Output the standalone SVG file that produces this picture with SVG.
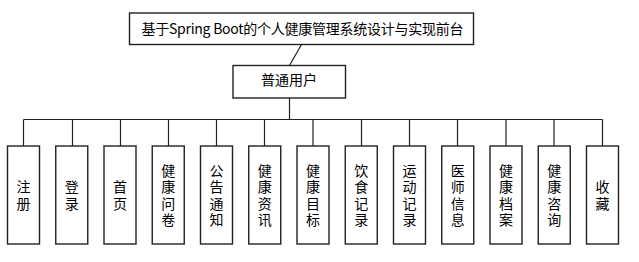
<svg xmlns="http://www.w3.org/2000/svg" width="639" height="262" viewBox="0 0 639 262">
<style>
.box{fill:#fff;stroke:#222;stroke-width:1.4}
.ln{fill:none;stroke:#222;stroke-width:1.2}
text{font-family:"Noto Sans CJK SC","Liberation Sans",sans-serif;font-size:14px;fill:#000;text-anchor:middle}
</style>
<rect width="639" height="262" fill="#fff"/>
<g id="connectors">
<path class="ln" d="M301.5 44.5 L289.5 65.5"/>
<path class="ln" d="M289.5 98 V119.5"/>
<path class="ln" d="M23.5 119.5 H602.5"/>
<path class="ln" d="M23.5 119.5 V146 M72.5 119.5 V146 M120.5 119.5 V146 M168.5 119.5 V146 M216.5 119.5 V146 M264.5 119.5 V146 M313 119.5 V146 M361.5 119.5 V146 M409.5 119.5 V146 M457.5 119.5 V146 M506 119.5 V146 M554 119.5 V146 M602.5 119.5 V146"/>
</g>
<g id="title">
<rect class="box" x="129.5" y="13" width="344" height="31.5"/>
<text x="302.5" y="34" textLength="322" lengthAdjust="spacing">基于Spring Boot的个人健康管理系统设计与实现前台</text>
</g>
<g id="user">
<rect class="box" x="233" y="65.5" width="112.5" height="32.5"/>
<text x="289" y="85">普通用户</text>
</g>
<g id="n1"><rect class="box" x="7.5" y="146" width="32" height="98"/><text x="23.5" y="192">注</text><text x="23.5" y="208.5">册</text></g>
<g id="n2"><rect class="box" x="55.75" y="146" width="32" height="98"/><text x="71.75" y="192">登</text><text x="71.75" y="208.5">录</text></g>
<g id="n3"><rect class="box" x="104" y="146" width="32" height="98"/><text x="120" y="192">首</text><text x="120" y="208.5">页</text></g>
<g id="n4"><rect class="box" x="152.25" y="146" width="32" height="98"/><text x="168.25" y="175.5">健</text><text x="168.25" y="192">康</text><text x="168.25" y="208.5">问</text><text x="168.25" y="225">卷</text></g>
<g id="n5"><rect class="box" x="200.5" y="146" width="32" height="98"/><text x="216.5" y="175.5">公</text><text x="216.5" y="192">告</text><text x="216.5" y="208.5">通</text><text x="216.5" y="225">知</text></g>
<g id="n6"><rect class="box" x="248.75" y="146" width="32" height="98"/><text x="264.75" y="175.5">健</text><text x="264.75" y="192">康</text><text x="264.75" y="208.5">资</text><text x="264.75" y="225">讯</text></g>
<g id="n7"><rect class="box" x="297" y="146" width="32" height="98"/><text x="313" y="175.5">健</text><text x="313" y="192">康</text><text x="313" y="208.5">目</text><text x="313" y="225">标</text></g>
<g id="n8"><rect class="box" x="345.25" y="146" width="32" height="98"/><text x="361.25" y="175.5">饮</text><text x="361.25" y="192">食</text><text x="361.25" y="208.5">记</text><text x="361.25" y="225">录</text></g>
<g id="n9"><rect class="box" x="393.5" y="146" width="32" height="98"/><text x="409.5" y="175.5">运</text><text x="409.5" y="192">动</text><text x="409.5" y="208.5">记</text><text x="409.5" y="225">录</text></g>
<g id="n10"><rect class="box" x="441.75" y="146" width="32" height="98"/><text x="457.75" y="175.5">医</text><text x="457.75" y="192">师</text><text x="457.75" y="208.5">信</text><text x="457.75" y="225">息</text></g>
<g id="n11"><rect class="box" x="490" y="146" width="32" height="98"/><text x="506" y="175.5">健</text><text x="506" y="192">康</text><text x="506" y="208.5">档</text><text x="506" y="225">案</text></g>
<g id="n12"><rect class="box" x="538.25" y="146" width="32" height="98"/><text x="554.25" y="175.5">健</text><text x="554.25" y="192">康</text><text x="554.25" y="208.5">咨</text><text x="554.25" y="225">询</text></g>
<g id="n13"><rect class="box" x="586.5" y="146" width="32" height="98"/><text x="602.5" y="192">收</text><text x="602.5" y="208.5">藏</text></g>
</svg>
